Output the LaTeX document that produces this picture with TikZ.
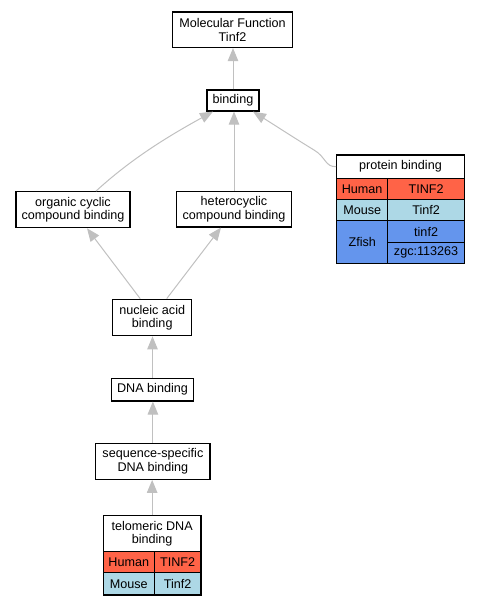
\documentclass[tikz,border=0pt]{standalone}
\usepackage{fontspec}
\setmainfont{Liberation Sans}
\usetikzlibrary{arrows.meta}
\definecolor{edgegray}{HTML}{C0C0C0}
\definecolor{human}{HTML}{FF6347}
\definecolor{mouse}{HTML}{ADD8E6}
\definecolor{zfish}{HTML}{6495ED}
\begin{document}
\begin{tikzpicture}[x=1pt,y=-1pt,
  box/.style={draw=black, line width=1.2pt, fill=white, inner sep=0pt, align=center,
    font=\fontsize{12.6}{13.5}\selectfont},
  edge/.style={draw=edgegray, line width=1pt,
    -{Triangle[length=13pt,width=10.5pt,fill=edgegray]}},
  hum/.style={box, fill=human},
  mou/.style={box, fill=mouse},
  zf/.style={box, fill=zfish}]
\useasboundingbox (0,0) rectangle (479,605);

% plain term nodes
\node[box, minimum width=120pt, minimum height=35.5pt] (mf) at (232.5,29.75) {Molecular Function\\Tinf2};
\node[box, minimum width=52pt, minimum height=21pt] (bind) at (233,100.5) {binding};
\node[box, minimum width=114pt, minimum height=36pt] (oc) at (73,209.7) {organic cyclic\\compound binding};
\node[box, minimum width=115pt, minimum height=35.5pt] (hc) at (234,209.2) {heterocyclic\\compound binding};
\node[box, minimum width=79pt, minimum height=36.5pt] (nab) at (152.2,317.5) {nucleic acid\\binding};
\node[box, minimum width=81.5pt, minimum height=22.5pt] (dna) at (152.5,389.7) {DNA binding};
\node[box, minimum width=114.3pt, minimum height=36pt] (ssd) at (152.9,461.3) {sequence-specific\\DNA binding};

% protein binding table
\node[box, minimum width=127.8pt, minimum height=23.3pt] (pbh) at (400.5,166.65) {protein binding};
\node[hum, minimum width=51.2pt, minimum height=21.2pt] (pbhl) at (362.2,188.9) {Human};
\node[hum, minimum width=76.6pt, minimum height=21.2pt] (pbhv) at (426.1,188.9) {TINF2};
\node[mou, minimum width=51.2pt, minimum height=21.3pt] (pbml) at (362.2,210.15) {Mouse};
\node[mou, minimum width=76.6pt, minimum height=21.3pt] (pbmv) at (426.1,210.15) {Tinf2};
\node[zf, minimum width=51.2pt, minimum height=42.7pt] (pbzl) at (362.2,242.15) {Zfish};
\node[zf, minimum width=76.6pt, minimum height=21.4pt] (pbzv) at (426.1,231.5) {tinf2};
\node[zf, minimum width=76.6pt, minimum height=21.3pt] (pbzw) at (426.1,252.85) {zgc:113263};

% telomeric DNA binding table
\node[box, minimum width=97.7pt, minimum height=36pt] (telh) at (152.15,533.7) {telomeric DNA\\binding};
\node[hum, minimum width=51pt, minimum height=21pt] (telhl) at (128.8,562.2) {Human};
\node[hum, minimum width=46.7pt, minimum height=21pt] (telhv) at (177.65,562.2) {TINF2};
\node[mou, minimum width=51pt, minimum height=22.3pt] (telml) at (128.8,583.85) {Mouse};
\node[mou, minimum width=46.7pt, minimum height=22.3pt] (telmv) at (177.65,583.85) {Tinf2};

% edges
\draw[edge] (bind.north) -- (bind.north |- mf.south);
\draw[edge] (hc.north) -- (hc.north |- bind.south);
\draw[edge] ([xshift=23pt]oc.north) .. controls (130,160) and (165,138) .. ([xshift=-20pt]bind.south);
\draw[edge] (pbh.west) .. controls (325,167) and (326,157) .. (314,150)
  .. controls (296,139) and (276,126) .. ([xshift=20pt]bind.south);
\draw[edge] ([xshift=-12pt]nab.north) -- ([xshift=14pt]oc.south);
\draw[edge] ([xshift=14.5pt]nab.north) -- ([xshift=-13pt]hc.south);
\draw[edge] (dna.north) -- (dna.north |- nab.south);
\draw[edge] (ssd.north) -- (ssd.north |- dna.south);
\draw[edge] (telh.north) -- (telh.north |- ssd.south);
\end{tikzpicture}
\end{document}
